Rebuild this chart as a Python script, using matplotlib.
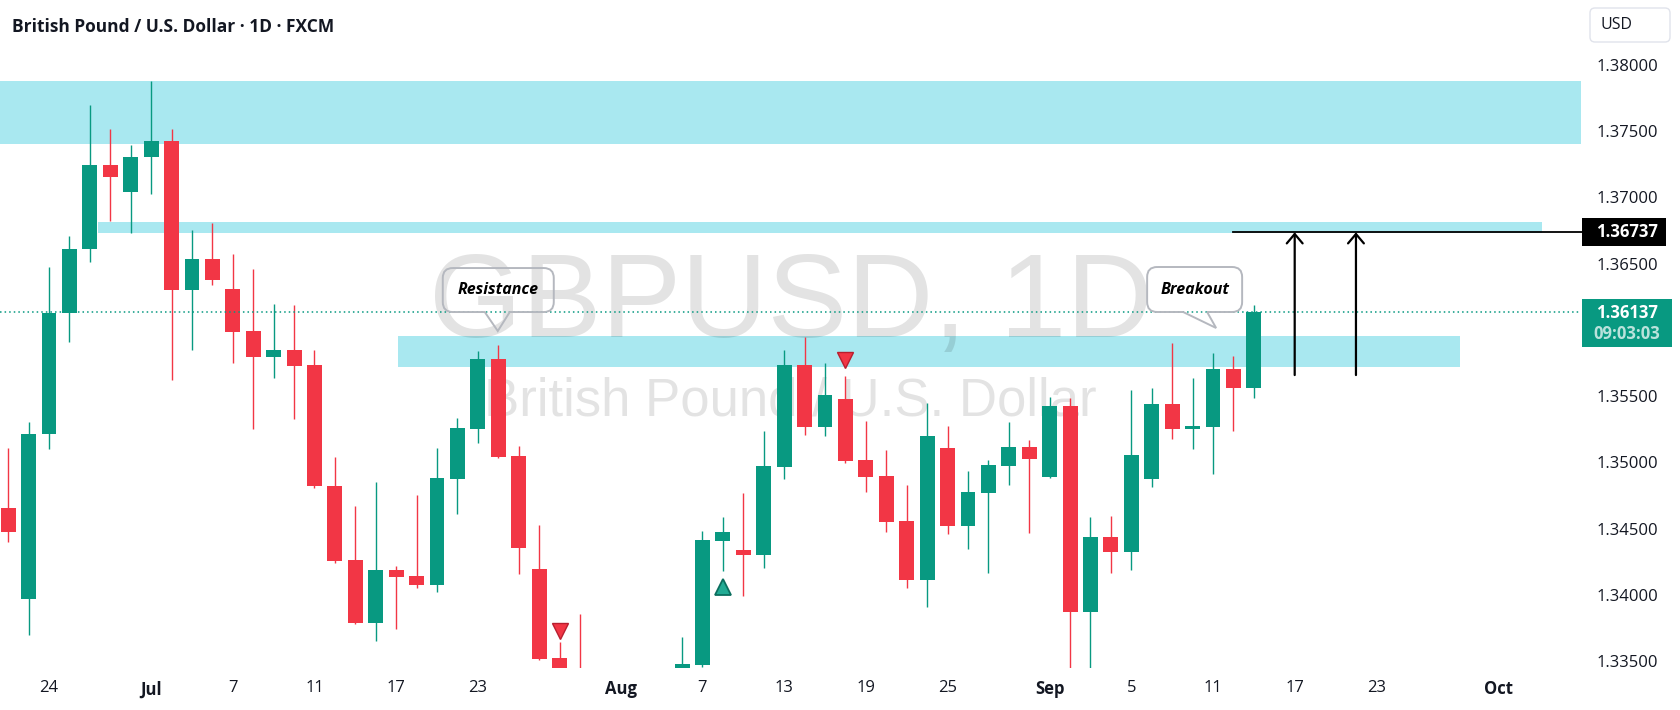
import matplotlib
matplotlib.use('Agg')
import matplotlib.pyplot as plt
import matplotlib.transforms as mtransforms
from matplotlib.patches import Rectangle, FancyBboxPatch, PathPatch
from matplotlib.path import Path
import pandas as pd

# ---- daily GBPUSD candles (FXCM) ----
dates = ['2025-06-20', '2025-06-23', '2025-06-24', '2025-06-25', '2025-06-26', '2025-06-27',
         '2025-06-30', '2025-07-01', '2025-07-02', '2025-07-03', '2025-07-04', '2025-07-07',
         '2025-07-08', '2025-07-09', '2025-07-10', '2025-07-11', '2025-07-14', '2025-07-15',
         '2025-07-16', '2025-07-17', '2025-07-18', '2025-07-21', '2025-07-22', '2025-07-23',
         '2025-07-24', '2025-07-25', '2025-07-28', '2025-07-29', '2025-07-30', '2025-07-31',
         '2025-08-01', '2025-08-04', '2025-08-05', '2025-08-06', '2025-08-07', '2025-08-08',
         '2025-08-11', '2025-08-12', '2025-08-13', '2025-08-14', '2025-08-15', '2025-08-18',
         '2025-08-19', '2025-08-20', '2025-08-21', '2025-08-22', '2025-08-25', '2025-08-26',
         '2025-08-27', '2025-08-28', '2025-08-29', '2025-09-01', '2025-09-02', '2025-09-03',
         '2025-09-04', '2025-09-05', '2025-09-08', '2025-09-09', '2025-09-10', '2025-09-11',
         '2025-09-12', '2025-09-15']
opens = [1.34655, 1.33968, 1.35214, 1.36127, 1.36611, 1.37245, 1.37041, 1.37305, 1.37426, 1.36301,
         1.36535, 1.36309, 1.35992, 1.35795, 1.35848, 1.35735, 1.34821, 1.34262, 1.33787, 1.34187,
         1.34142, 1.34074, 1.34874, 1.35252, 1.35780, 1.35048, 1.34194, 1.33522, 1.33400, 1.32820,
         1.32050, 1.32750, 1.32850, 1.33000, 1.33470, 1.34406, 1.34338, 1.34300, 1.34965, 1.35735,
         1.35267, 1.35478, 1.35018, 1.34897, 1.34557, 1.34111, 1.35108, 1.34519, 1.34768, 1.34972,
         1.35116, 1.34889, 1.35425, 1.33870, 1.34436, 1.34323, 1.34874, 1.35440, 1.35252, 1.35267,
         1.35705, 1.35561]
highs = [1.35108, 1.35304, 1.36475, 1.36709, 1.37698, 1.37517, 1.37396, 1.37879, 1.37517, 1.36754,
         1.36807, 1.36573, 1.36460, 1.36195, 1.36188, 1.35848, 1.35040, 1.34670, 1.34851, 1.34217,
         1.34753, 1.35108, 1.35335, 1.35840, 1.35886, 1.35123, 1.34527, 1.33640, 1.33855, 1.33000,
         1.32850, 1.33000, 1.33380, 1.33681, 1.34481, 1.34587, 1.34768, 1.35237, 1.35848, 1.35946,
         1.35750, 1.35652, 1.35312, 1.35093, 1.34829, 1.35448, 1.35274, 1.34934, 1.35018, 1.35304,
         1.35169, 1.35493, 1.35486, 1.34587, 1.34595, 1.35546, 1.35561, 1.35901, 1.35637, 1.35825,
         1.35803, 1.36188]
lows = [1.34398, 1.33696, 1.35101, 1.35908, 1.36513, 1.36822, 1.36732, 1.37026, 1.35622, 1.35848,
        1.36339, 1.35750, 1.35252, 1.35637, 1.35327, 1.34806, 1.34240, 1.33780, 1.33651, 1.33741,
        1.34051, 1.34021, 1.34610, 1.35146, 1.35033, 1.34157, 1.33507, 1.33300, 1.32700, 1.32000,
        1.31400, 1.32550, 1.32650, 1.32950, 1.33455, 1.34179, 1.33991, 1.34202, 1.34874, 1.35206,
        1.35199, 1.34995, 1.34776, 1.34474, 1.34051, 1.33908, 1.34459, 1.34345, 1.34164, 1.34829,
        1.34466, 1.34880, 1.33340, 1.33380, 1.34164, 1.34187, 1.34814, 1.35176, 1.35101, 1.34912,
        1.35237, 1.35486]
closes = [1.34474, 1.35214, 1.36127, 1.36611, 1.37245, 1.37154, 1.37305, 1.37426, 1.36301, 1.36535,
          1.36377, 1.35984, 1.35795, 1.35848, 1.35727, 1.34821, 1.34255, 1.33787, 1.34187, 1.34134,
          1.34074, 1.34882, 1.35259, 1.35780, 1.35040, 1.34353, 1.33515, 1.33400, 1.32820, 1.32050,
          1.32750, 1.32850, 1.33000, 1.33477, 1.34413, 1.34474, 1.34300, 1.34972, 1.35735, 1.35267,
          1.35508, 1.35010, 1.34889, 1.34549, 1.34111, 1.35199, 1.34519, 1.34776, 1.34980, 1.35116,
          1.35025, 1.35425, 1.33870, 1.34436, 1.34323, 1.35055, 1.35440, 1.35252, 1.35274, 1.35705,
          1.35561, 1.36137]

# time axis labels
tick_dates = ['2025-06-24', '2025-07-01', '2025-07-07', '2025-07-11', '2025-07-17', '2025-07-23',
              '2025-08-01', '2025-08-07', '2025-08-13', '2025-08-19', '2025-08-25', '2025-09-01',
              '2025-09-05', '2025-09-11', '2025-09-17', '2025-09-23', '2025-10-01']
price_ticks = [1.335, 1.340, 1.345, 1.350, 1.355, 1.365, 1.370, 1.375, 1.380]

# drawings: zones (start day pos, end day pos, low, high), target, signals
zone_top = (1.37403, 1.37879)
zone_mid = (4.4, 75.1, 1.36732, 1.36815)
zone_res = (19.1, 71.1, 1.35720, 1.35954)
target = 1.36737
target_start = '2025-09-12'
arrow_dates = ['2025-09-17', '2025-09-22']
arrow_base = 1.35659
sell_signals = [('2025-07-29', 1.33726), ('2025-08-18', 1.35773)]
buy_signals = [('2025-08-08', 1.34059)]
last_price = 1.36137
countdown = '09:03:03'
callouts = [('Resistance', 24.0, 1.36301), ('Breakout', 58.1, 1.36305)]

GREEN = '#089981'
RED = '#F23645'
ZONE = '#A9E8F0'
INK = '#131722'

plt.rcParams['font.family'] = ['Open Sans', 'DejaVu Sans']

days = pd.bdate_range('2025-06-20', '2025-10-10')
pos = {d: i for i, d in enumerate(days)}
def dpos(s):
    return pos[pd.Timestamp(s)]

xs = [dpos(d) for d in dates]

W, H = 1680, 710
fig = plt.figure(figsize=(W / 100, H / 100), dpi=100)
ax = fig.add_axes([0, (H - 668) / H, 1581 / W, 668 / H])
ax.set_xlim(-0.4, 77.02)
ax.set_ylim(1.33447, 1.38491)
for s in ax.spines.values():
    s.set_visible(False)

# zones
ax.axhspan(zone_top[0], zone_top[1], color=ZONE, lw=0, zorder=1)
for z in (zone_mid, zone_res):
    ax.add_patch(Rectangle((z[0], z[2]), z[1] - z[0], z[3] - z[2], color=ZONE, lw=0, zorder=1))

# watermark
ax.text(0.5, 0.4955, 'GBPUSD, 1D', transform=ax.transAxes, ha='center', va='baseline',
        fontsize=86, family='Liberation Sans', color='black', alpha=0.11, zorder=2)
ax.text(0.5, 0.3787, 'British Pound / U.S. Dollar', transform=ax.transAxes, ha='center',
        va='baseline', fontsize=38, family='Liberation Sans', color='black', alpha=0.11, zorder=2)

# candles
for x, o, h, l, c in zip(xs, opens, highs, lows, closes):
    col = GREEN if c >= o else RED
    ax.vlines(x, l, h, color=col, lw=1.0, zorder=3)
    ax.bar(x, max(abs(c - o), 0.00015), bottom=min(o, c), width=0.73, color=col, lw=0, zorder=3)

# signals
for d, p in sell_signals:
    ax.plot(dpos(d), p, marker='v', ms=12, color=RED, mec='#B81F2F', mew=1, zorder=4)
for d, p in buy_signals:
    ax.plot(dpos(d), p, marker='^', ms=12, color='#22AB94', mec='#0B6E5E', mew=1.3, zorder=4)

# last price dotted line
ax.axhline(last_price, color=GREEN, lw=1.1, ls=(0, (1, 2)), zorder=5)

# target line and arrows
ax.plot([dpos(target_start), 80], [target, target], color='black', lw=1.3, zorder=6, clip_on=False)
for d in arrow_dates:
    ax.annotate('', xy=(dpos(d), target), xytext=(dpos(d), arrow_base),
                arrowprops=dict(arrowstyle='->,head_length=0.45,head_width=0.38', lw=1.6,
                                color='black', shrinkA=0, shrinkB=0, mutation_scale=15), zorder=6)

# callouts (drawn in pixels around an anchor)
def callout_path(cx, cy, hw, hh, r, b0, b1, tip):
    x0, x1, y0, y1 = cx - hw, cx + hw, cy - hh, cy + hh
    M, L, C = Path.MOVETO, Path.LINETO, Path.CURVE3
    verts = [(x0 + r, y1), (x1 - r, y1), (x1, y1), (x1, y1 - r), (x1, y0 + r), (x1, y0),
             (x1 - r, y0), (cx + b1, y0), (cx + tip[0], cy + tip[1]), (cx + b0, y0),
             (x0 + r, y0), (x0, y0), (x0, y0 + r), (x0, y1 - r), (x0, y1), (x0 + r, y1)]
    codes = [M, L, C, C, L, C, C, L, L, L, L, C, C, L, C, C]
    return Path(verts, codes)

shapes = {'Resistance': (55.5, 22, -13.5, 11.5, (-0.5, -41)),
          'Breakout': (47.5, 22.5, -11.5, 12.5, (21.5, -38.5))}
for label, x, p in callouts:
    cx, cy = ax.transData.transform((x, p))
    hw, hh, b0, b1, tip = shapes[label]
    path = callout_path(cx, cy, hw, hh, 10, b0, b1, tip)
    ax.add_patch(PathPatch(path, transform=mtransforms.IdentityTransform(), facecolor='none',
                           edgecolor='#B5B8BF', lw=1.4, zorder=7, clip_on=False))
    ax.text(x, p, label, ha='center', va='center', fontsize=11.5, fontweight='bold',
            fontstyle='italic', color='black', zorder=8)

# price scale
ax.yaxis.tick_right()
ax.set_yticks(price_ticks)
ax.set_yticklabels(['%.5f' % v for v in price_ticks])
ax.tick_params(axis='y', length=0, pad=11, labelsize=12, labelcolor=INK)

tlabels = []
for d in tick_dates:
    t = pd.Timestamp(d)
    tlabels.append(t.strftime('%b') if t.day == 1 else str(t.day))
ax.set_xticks([dpos(d) for d in tick_dates])
ax.set_xticklabels(tlabels)
ax.tick_params(axis='x', length=0, pad=9, labelsize=12, labelcolor=INK)
for lab in ax.get_xticklabels():
    if not lab.get_text().isdigit():
        lab.set_fontweight('bold')

# price labels on the scale
ident = mtransforms.IdentityTransform()
_, ty = ax.transData.transform((0, target))
fig.add_artist(Rectangle((1582, ty - 14), 84, 28, facecolor='black', lw=0, transform=ident))
fig.text(1627, ty, '%.5f' % target, transform=ident, ha='center', va='center', color='white',
         fontsize=12, fontweight='bold')
_, ly = ax.transData.transform((0, last_price))
fig.add_artist(Rectangle((1582, ly - 35), 90, 48, facecolor=GREEN, lw=0, transform=ident))
fig.text(1627, ly - 1, '%.5f' % last_price, transform=ident, ha='center', va='center',
         color='white', fontsize=12, fontweight='bold')
fig.text(1627, ly - 22, countdown, transform=ident, ha='center', va='center',
         color='white', alpha=0.72, fontsize=12, fontweight='bold')

# currency box
fig.add_artist(FancyBboxPatch((1590, H - 42), 80, 34, boxstyle='round,pad=0,rounding_size=5',
                              facecolor='white', edgecolor='#E0E3EB', lw=1, transform=ident))
fig.text(1616, H - 25, 'USD', transform=ident, ha='center', va='center', color=INK, fontsize=11.5)

# title
fig.text(12, H - 32, 'British Pound / U.S. Dollar \u00b7 1D \u00b7 FXCM', transform=ident,
         ha='left', va='baseline', color=INK, fontsize=12.5, fontweight='bold')

fig.savefig('out.png', dpi=100)
